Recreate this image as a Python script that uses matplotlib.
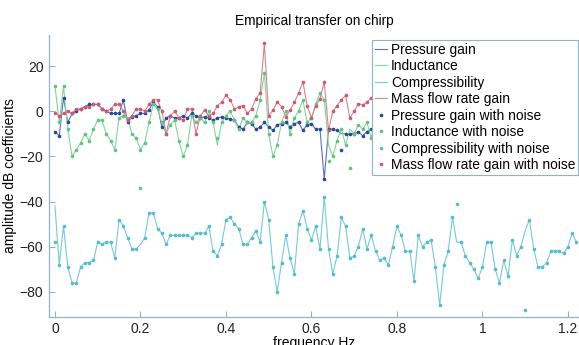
"""Empirical transfer on chirp: clean vs noisy transfer coefficients."""

import numpy as np
import matplotlib
matplotlib.use("Agg")
import matplotlib.pyplot as plt

plt.rcParams["font.family"] = ["Liberation Sans", "DejaVu Sans"]

# frequency grid (Hz), 123 points spaced 0.01
N_POINTS = 123
FREQ_STEP = 0.01

PRESSURE_GAIN = [
    -9, -11, 6, -5, -1, 0, 1, 2, 3, 3,
    3, 1, 0, -1, -1, -1, 5, -5, -2.5, -2,
    -1, -1, 0.5, 4, 2, -7, -3, -2, -3, -3,
    -2, -3, -1, -2, -3, -2.5, -3, -4, -3, -2.5,
    -3, -3.5, -4, -7, -8, -5, -5.5, -8, -7, -5,
    -7, -8.5, -6, -5.5, -5, -7, -5.5, -5, -8.5, -6,
    -5.5, -8, -8, -30, -8, -8, -8.5, -10, -10, -10,
    -10, -9, -11, -9, -8, -7, -9, -8, -6, -7,
    -8, -6, -5, -7, -8, -6, -7, -9, -8, -6,
    -5, -7, -8, -9, -7, -6, -8, -7, -5, -6,
    -8, -9, -7, -6, -7, -8, -6, -5, -7, -9,
    -8, -6, -7, -8, -7, -6, -5, -7, -6, -8,
    -7, -5, -5,
]

INDUCTANCE = [
    11, -5, 11, -8, -20, -17, -14, -10, -13, -8,
    -4, -4, -10, -13, -17, -3, -2, -3, -10, -12,
    -17, -14, -5, 3, 1, -5, -10, -6, -4, -13,
    -20, -15, -2, -5, -3, -5, 0, -5, -15, -5,
    -2, 0, -4, -8, -3, -5, -5, -2, 5, 17,
    -10, -20, -15, -5, 0, -10, -3, 0, 5, -5,
    -3, 3, 8, 5, -15, -20, -13, -8, -15, -8,
    -10, -6, -8, -5, -12, -3, 2, -8, -15, -6,
    0, -4, -10, -2, 3, -7, -12, -4, 1, -6,
    -14, -5, 0, -3, -9, -2, 4, -6, -11, -3,
    1, -5, -13, -4, 2, -7, -10, -2, 3, -6,
    -12, -4, 1, -5, -9, -2, 2, -4, -8, -1,
    3, 4, 3,
]

COMPRESSIBILITY = [
    -42, -68, -51, -69, -76, -76, -69, -67, -67, -66,
    -58, -59, -58, -58, -65, -48, -51, -56, -61, -61,
    -59, -56, -45, -45, -52, -54, -59, -55, -55, -55,
    -55, -55, -56, -54, -54, -54, -51, -62, -64, -59,
    -48, -47, -50, -52, -59, -59, -56, -53, -58, -40,
    -48, -69, -80, -67, -55, -65, -72, -50, -44, -52,
    -57, -51, -61, -38, -61, -72, -64, -47, -51, -65,
    -64, -60, -52, -61, -55, -62, -66, -65, -68, -60,
    -51, -55, -62, -62, -75, -55, -60, -58, -57, -69,
    -86, -68, -62, -47, -58, -58, -64, -67, -70, -74,
    -69, -58, -58, -70, -76, -66, -73, -57, -64, -60,
    -53, -48, -61, -69, -69, -67, -62, -62, -62, -63,
    -60, -54, -58,
]

MASS_FLOW_GAIN = [
    -1, -2, -1, 0, -1, 1, 1, 2, 2, 3,
    3, 1, 0, 1, 3, 3, 0, -4, -2, 1,
    1, 0, 3, 5, 5, 0, -10, -2, 0, -3,
    -4, 1, 1, -10, -2, 0.5, -2, -1, 2.5, 4,
    7, 5, 1, 2, 2.5, -1, 1, 5.5, 8, 30,
    -2, 0.5, 4, 2, -2.5, 0.5, 4, 8, 13, 2.5,
    -3, 2.5, 5.5, 13, -8.5, 0, 2.5, 5, 7, -3,
    0, 3.4, 2.7, 4, 6, 1, -2, 3, 8, 5,
    0, 2, 6, 3, -1, 4, 7, 2, 0, 5,
    3, -2, 1, 6, 4, 0, 3, 7, 2, -1,
    4, 5, 1, 3, 6, 2, -2, 3, 5, 1,
    4, 7, 2, 0, 3, 5, 1, 2, 4, 0,
    3, 2, 1,
]

# noisy samples that visibly leave the clean curve: {index: value}
PRESSURE_NOISE_OUTLIERS = {67: -17}
INDUCTANCE_NOISE_OUTLIERS = {38: -12, 64: -22, 69: -25}
COMPRESSIBILITY_NOISE_OUTLIERS = {0: -58, 20: -34, 94: -41, 110: -88}
MASS_FLOW_NOISE_OUTLIERS = {}

LINE_LABELS = ["Pressure gain", "Inductance", "Compressibility",
               "Mass flow rate gain"]
NOISE_LABELS = [s + " with noise" for s in LINE_LABELS]

LINE_COLORS = ["#5a70c0", "#80d898", "#74cadb", "#dc8090"]
DOT_COLORS = ["#2a4894", "#62c480", "#56bccf", "#cc5a72"]


def with_outliers(values, outliers):
    noisy = np.array(values, dtype=float)
    for i, v in outliers.items():
        noisy[i] = v
    return noisy


def main():
    freq = np.arange(N_POINTS) * FREQ_STEP
    clean = [PRESSURE_GAIN, INDUCTANCE, COMPRESSIBILITY, MASS_FLOW_GAIN]
    outl = [PRESSURE_NOISE_OUTLIERS, INDUCTANCE_NOISE_OUTLIERS,
            COMPRESSIBILITY_NOISE_OUTLIERS, MASS_FLOW_NOISE_OUTLIERS]
    for s in clean:
        assert len(s) == N_POINTS, len(s)

    fig = plt.figure(figsize=(5.79, 3.45), dpi=100)
    ax = fig.add_axes([0.0846, 0.082, 0.9154, 0.817])

    for vals, lab, col in zip(clean, LINE_LABELS, LINE_COLORS):
        ax.plot(freq, vals, color=col, linewidth=0.8, label=lab)
    for vals, o, lab, col in zip(clean, outl, NOISE_LABELS, DOT_COLORS):
        ax.plot(freq, with_outliers(vals, o), linestyle="none", marker=".",
                markersize=3.2, color=col, label=lab)

    ax.set_xlim(-0.014, 1.226)
    ax.set_ylim(-91, 33.8)
    ax.set_xticks([0, 0.2, 0.4, 0.6, 0.8, 1, 1.2])
    ax.set_xticklabels(["0", "0.2", "0.4", "0.6", "0.8", "1", "1.2"])
    ax.set_yticks([-80, -60, -40, -20, 0, 20])

    for side in ["top", "right"]:
        ax.spines[side].set_visible(False)
    for side in ["left", "bottom"]:
        ax.spines[side].set_color("#8fb4c8")
        ax.spines[side].set_linewidth(0.9)
    ax.tick_params(direction="in", length=4, color="#8fb4c8",
                   labelsize=10, labelcolor="#222222", pad=4)

    ax.set_title("Empirical transfer on chirp", fontsize=9.8, pad=7)
    ax.set_xlabel("frequency Hz", fontsize=10, labelpad=0)
    ax.set_ylabel("amplitude dB coefficients", fontsize=10, labelpad=2)

    leg = ax.legend(loc="upper right", bbox_to_anchor=(578 / 579, 1 - 40 / 345),
                    bbox_transform=fig.transFigure, fontsize=9.9,
                    handlelength=0.9, handletextpad=0.25, labelspacing=0.18,
                    borderpad=0.2, borderaxespad=0, fancybox=False,
                    framealpha=1, markerscale=1.0)
    leg.get_frame().set_edgecolor("#8fb4c8")
    leg.get_frame().set_linewidth(0.8)

    fig.savefig("out.png", dpi=100)
    plt.close(fig)


if __name__ == "__main__":
    main()
